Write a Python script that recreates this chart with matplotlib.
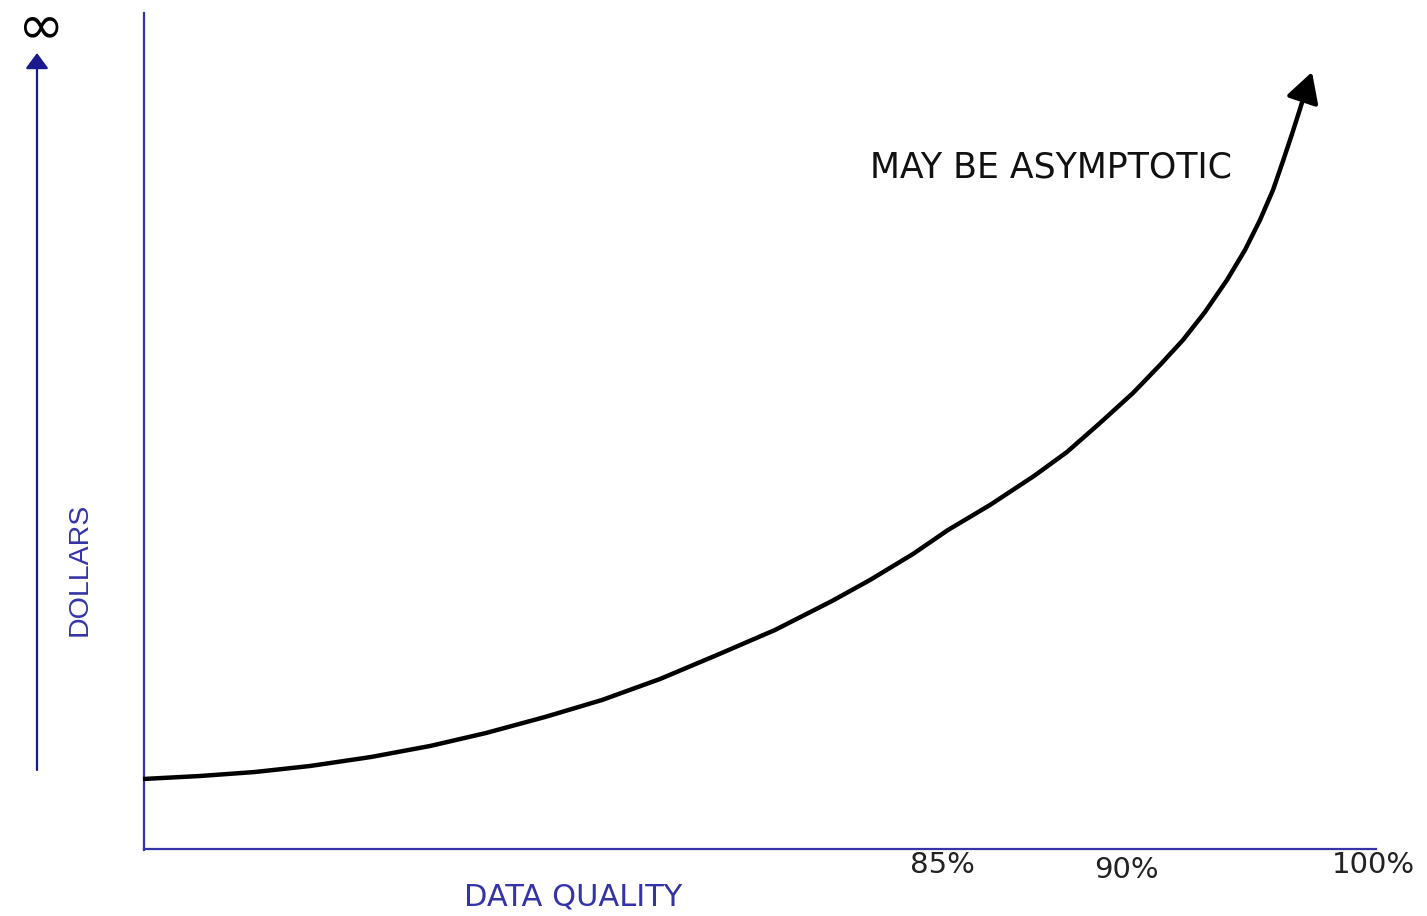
import matplotlib.pyplot as plt
import numpy as np

# curve (pixel-like units, y grows downward)
curve_x = [143, 200, 255, 310, 371, 430, 486, 545, 602, 660, 717, 775, 832, 870, 913, 948,
           990, 1034, 1067, 1100, 1133, 1160, 1183, 1205, 1227, 1245, 1260, 1273, 1283, 1292, 1300, 1304]
curve_y = [779, 776, 772, 766, 757, 746, 733, 717, 700, 679, 655, 630, 601, 580, 554, 530,
           505, 476, 452, 423, 393, 365, 340, 312, 280, 250, 220, 190, 161, 134, 109, 96]
arrow_tip = (1312, 72)

tick_labels = ['85%', '90%', '100%']
tick_x = [942, 1126, 1373]
tick_y = [865, 870, 865]

blue = '#3434a8'
navy = '#1a1a8c'

fig = plt.figure(figsize=(14.27, 9.16), dpi=100)
ax = fig.add_axes([0, 0, 1, 1])
ax.set_xlim(0, 1427)
ax.set_ylim(916, 0)
ax.axis('off')

# axes lines
ax.plot([144, 144], [13, 850], color=blue, lw=1.6)
ax.plot([144, 1376], [849, 849], color=blue, lw=1.6)

# dollars arrow on the left
ax.annotate('', xy=(37, 53), xytext=(37, 770),
            arrowprops=dict(arrowstyle='-|>,head_length=0.95,head_width=0.7',
                            color=navy, lw=1.6, shrinkA=0, shrinkB=0))
ax.text(38, 27, r'$\infty$', fontsize=40, ha='center', va='center', color='black')

# the curve
ax.plot(curve_x, curve_y, color='black', lw=3.2, solid_capstyle='butt', solid_joinstyle='round')
ax.annotate('', xy=arrow_tip, xytext=(curve_x[-1], curve_y[-1]),
            arrowprops=dict(arrowstyle='-|>,head_length=1.8,head_width=1.0',
                            color='black', lw=3.2, shrinkA=0, shrinkB=0))

ax.text(1051, 167, 'MAY BE ASYMPTOTIC', fontsize=25, ha='center', va='center',
        family=['DejaVu Sans'], color='#111111')

for lab, x, y in zip(tick_labels, tick_x, tick_y):
    ax.text(x, y, lab, fontsize=21, ha='center', va='center',
            family=['DejaVu Sans'], color='#222222')

ax.text(573, 897, 'DATA QUALITY', fontsize=22, ha='center', va='center',
        family=['DejaVu Sans'], color=blue)
ax.text(80, 569, 'DOLLARS', fontsize=20.5, ha='center', va='center', rotation=90,
        family=['Liberation Sans', 'DejaVu Sans'], color=blue)

fig.savefig('out.png', dpi=100)
